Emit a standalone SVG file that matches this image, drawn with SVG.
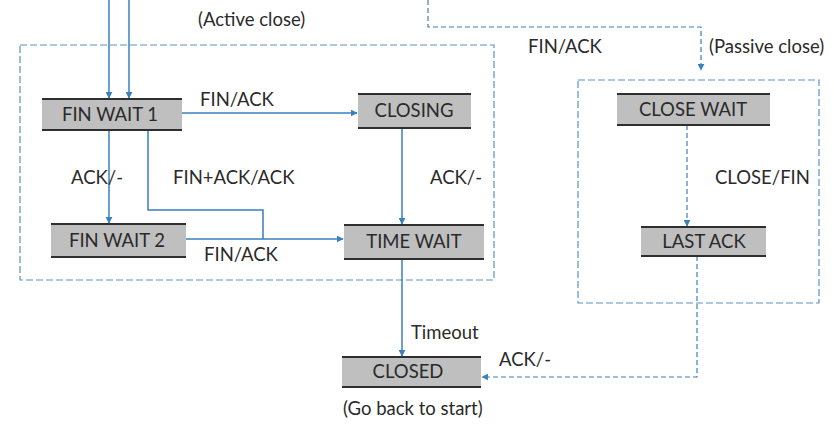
<svg xmlns="http://www.w3.org/2000/svg" width="834" height="424" viewBox="0 0 834 424">
  <style>
    .box { fill: #bfbfbf; }
    .edge-line { stroke: #2f2f2f; stroke-width: 2; }
    .lbl { font-family: Lato, "Open Sans", sans-serif; font-size: 18.5px; fill: #2a2a2a; }
    .st { font-family: Lato, "Open Sans", sans-serif; font-size: 18.5px; fill: #2a2a2a; text-anchor: middle; }
    .solid { fill: none; stroke: #3a80bd; stroke-width: 1.5; }
    .dash { fill: none; stroke: #3a80bd; stroke-width: 1.2; stroke-dasharray: 5 3; }
    .frame { fill: none; stroke: #5b93c7; stroke-width: 1.2; stroke-dasharray: 7 3; }
  </style>
  <defs>
    <marker id="arr" viewBox="0 0 10 10" refX="9" refY="5" markerWidth="7" markerHeight="7" orient="auto" markerUnits="userSpaceOnUse">
      <path d="M0,0 L10,5 L0,10 z" fill="#3a80bd"/>
    </marker>
  </defs>
  <rect width="834" height="424" fill="#ffffff"/>

  <!-- grouping frames -->
  <g id="frames">
    <rect class="frame" x="20" y="45" width="474" height="235"/>
    <rect class="frame" x="578" y="80" width="241" height="223"/>
  </g>

  <!-- free labels -->
  <text class="lbl" x="198" y="26">(Active close)</text>
  <text class="lbl" x="709" y="53">(Passive close)</text>
  <text class="lbl" x="343" y="415">(Go back to start)</text>

  <g id="connectors">
    <!-- entries into FIN WAIT 1 -->
    <line class="solid" x1="109" y1="0" x2="109" y2="98" marker-end="url(#arr)"/>
    <line class="solid" x1="129" y1="0" x2="129" y2="98" marker-end="url(#arr)"/>
    <!-- FIN WAIT 1 -> CLOSING -->
    <line class="solid" x1="182" y1="113" x2="357" y2="113" marker-end="url(#arr)"/>
    <text class="lbl" x="200" y="106">FIN/ACK</text>
    <!-- FIN WAIT 1 -> FIN WAIT 2 -->
    <line class="solid" x1="109" y1="130" x2="109" y2="223" marker-end="url(#arr)"/>
    <text class="lbl" x="71" y="184">ACK/-</text>
    <!-- FIN WAIT 1 -> TIME WAIT (FIN+ACK) -->
    <polyline class="solid" points="148,130 148,210 263,210 263,239"/>
    <text class="lbl" x="173" y="184">FIN+ACK/ACK</text>
    <!-- FIN WAIT 2 -> TIME WAIT -->
    <line class="solid" x1="186" y1="239" x2="343" y2="239" marker-end="url(#arr)"/>
    <text class="lbl" x="204" y="261">FIN/ACK</text>
    <!-- CLOSING -> TIME WAIT -->
    <line class="solid" x1="402" y1="128" x2="402" y2="224" marker-end="url(#arr)"/>
    <text class="lbl" x="430" y="184">ACK/-</text>
    <!-- TIME WAIT -> CLOSED -->
    <line class="solid" x1="402" y1="259" x2="402" y2="356" marker-end="url(#arr)"/>
    <text class="lbl" x="411" y="339">Timeout</text>
    <!-- passive close entry -->
    <polyline class="dash" points="428,0 428,27 701,27 701,70" marker-end="url(#arr)"/>
    <text class="lbl" x="528" y="53">FIN/ACK</text>
    <!-- CLOSE WAIT -> LAST ACK -->
    <line class="dash" x1="687" y1="125" x2="687" y2="226" marker-end="url(#arr)"/>
    <text class="lbl" x="715" y="184">CLOSE/FIN</text>
    <!-- LAST ACK -> CLOSED -->
    <polyline class="dash" points="697,256 697,377 482,377" marker-end="url(#arr)"/>
    <text class="lbl" x="499" y="366">ACK/-</text>
  </g>

  <g id="fin-wait-1">
    <rect class="box" x="42" y="99" width="140" height="31"/>
    <line class="edge-line" x1="42" y1="99" x2="182" y2="99"/>
    <line class="edge-line" x1="42" y1="130" x2="182" y2="130"/>
    <text class="st" x="110" y="121">FIN WAIT 1</text>
  </g>
  <g id="closing">
    <rect class="box" x="358" y="94" width="113" height="34"/>
    <line class="edge-line" x1="358" y1="94" x2="471" y2="94"/>
    <line class="edge-line" x1="358" y1="128" x2="471" y2="128"/>
    <text class="st" x="414" y="117">CLOSING</text>
  </g>
  <g id="close-wait">
    <rect class="box" x="617" y="94" width="153" height="31"/>
    <line class="edge-line" x1="617" y1="94" x2="770" y2="94"/>
    <line class="edge-line" x1="617" y1="125" x2="770" y2="125"/>
    <text class="st" x="693" y="116">CLOSE WAIT</text>
  </g>
  <g id="fin-wait-2">
    <rect class="box" x="51" y="224" width="135" height="33"/>
    <line class="edge-line" x1="51" y1="224" x2="186" y2="224"/>
    <line class="edge-line" x1="51" y1="257" x2="186" y2="257"/>
    <text class="st" x="117" y="247">FIN WAIT 2</text>
  </g>
  <g id="time-wait">
    <rect class="box" x="344" y="225" width="140" height="34"/>
    <line class="edge-line" x1="344" y1="225" x2="484" y2="225"/>
    <line class="edge-line" x1="344" y1="259" x2="484" y2="259"/>
    <text class="st" x="414" y="248">TIME WAIT</text>
  </g>
  <g id="last-ack">
    <rect class="box" x="641" y="227" width="125" height="29"/>
    <line class="edge-line" x1="641" y1="227" x2="766" y2="227"/>
    <line class="edge-line" x1="641" y1="256" x2="766" y2="256"/>
    <text class="st" x="704" y="248">LAST ACK</text>
  </g>
  <g id="closed">
    <rect class="box" x="342" y="357" width="139" height="30"/>
    <line class="edge-line" x1="342" y1="357" x2="481" y2="357"/>
    <line class="edge-line" x1="342" y1="387" x2="481" y2="387"/>
    <text class="st" x="408" y="378">CLOSED</text>
  </g>
</svg>
